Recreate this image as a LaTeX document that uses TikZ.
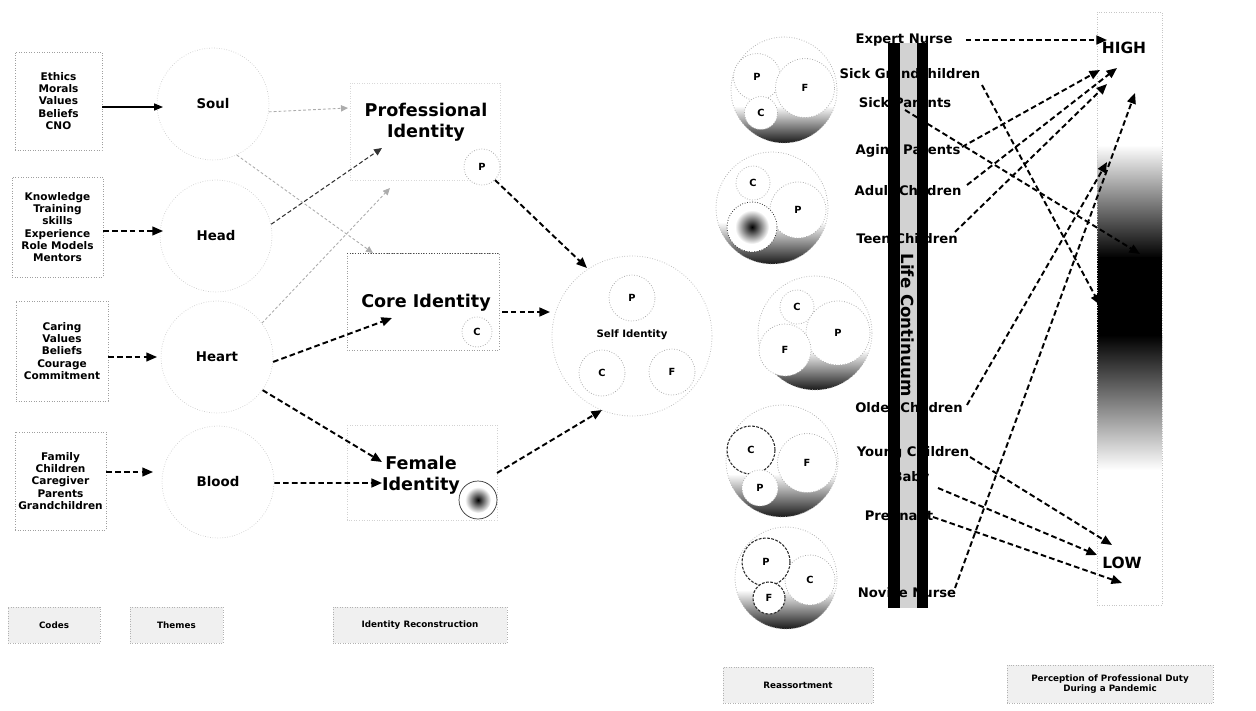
\documentclass[tikz,border=0pt]{standalone}
\usepackage{fontspec}
\setmainfont{DejaVu Sans}
\usetikzlibrary{arrows.meta}
\tikzset{
  codebox/.style={draw=gray!75, densely dotted, line width=0.45pt, align=center, inner sep=0pt, font=\fontsize{6}{7}\selectfont\bfseries},
  theme/.style={circle, draw=gray!40, densely dotted, line width=0.4pt, minimum size=2.24cm, inner sep=0pt, font=\fontsize{7.6}{9}\selectfont\bfseries},
  idbox/.style={draw=gray!40, densely dotted, line width=0.45pt},
  idtitle/.style={align=center, font=\fontsize{10}{12}\selectfont\bfseries, inner sep=0pt},
  ring/.style={circle, draw=gray!65, densely dotted, line width=0.45pt, fill=white, inner sep=0pt, font=\fontsize{5.6}{6}\selectfont\bfseries},
  darkring/.style={ring, draw=black!85, dash pattern=on 1.6pt off 0.8pt, line width=0.6pt},
  outerring/.style={draw=gray!60, densely dotted, line width=0.45pt},
  heavy/.style={draw=black, line width=1.1pt, dash pattern=on 3.2pt off 1.8pt, -{Triangle[length=6pt,width=5pt]}},
  medium/.style={draw=black!80, line width=0.6pt, dash pattern=on 2.4pt off 1.4pt, -{Triangle[length=4.5pt,width=4pt]}},
  faint/.style={draw=gray!65, line width=0.5pt, dash pattern=on 1.6pt off 1.2pt, -{Triangle[length=4pt,width=3.6pt]}},
  plainarrow/.style={draw=black, line width=0.6pt, -{Triangle[length=5pt,width=4pt]}},
  rlabel/.style={font=\fontsize{7.5}{9}\selectfont\bfseries, inner sep=0pt},
  tag/.style={draw=gray!60, densely dotted, fill=gray!12, line width=0.4pt, align=center, inner sep=0pt, font=\fontsize{5}{6}\selectfont\bfseries},
  crescent/.style={top color=white, bottom color=black!90},
}
\begin{document}
\begin{tikzpicture}[x=0.02cm,y=-0.02cm]
\useasboundingbox (0,0) rectangle (1256,710);

% ---------- Codes ----------
\node[codebox, minimum width=1.74cm, minimum height=1.96cm] (c1) at (58.5,101) {Ethics\\Morals\\Values\\Beliefs\\CNO};
\node[codebox, minimum width=1.82cm, minimum height=2.0cm] (c2) at (57.5,227) {Knowledge\\Training\\skills\\Experience\\Role Models\\Mentors};
\node[codebox, minimum width=1.84cm, minimum height=2.0cm] (c3) at (62,351) {Caring\\Values\\Beliefs\\Courage\\Commitment};
\node[codebox, minimum width=1.82cm, minimum height=1.96cm] (c4) at (60.5,481) {Family\\Children\\Caregiver\\Parents\\Grandchildren};

% ---------- Themes ----------
\node[theme] (soul) at (213,104) {Soul};
\node[theme] (head) at (216,236) {Head};
\node[theme] (heart) at (217,357) {Heart};
\node[theme] (blood) at (218,482) {Blood};

\draw[plainarrow] (c1.east |- 0,107) -- (163,107) coordinate (soulin);
\draw[heavy, line width=0.8pt] (c2.east |- 0,231) -- (163,231) coordinate (headin);
\draw[heavy, line width=0.8pt] (c3.east |- 0,357) -- (157,357) coordinate (heartin);
\draw[heavy, line width=0.8pt] (c4.east |- 0,472) -- (153,472) coordinate (bloodin);

% ---------- Identity boxes ----------
\draw[idbox, draw=gray!30] (350,83) rectangle (500,180);
\node[idtitle] (prof) at (426,122) {Professional\\Identity};
\node[ring, minimum size=0.72cm] (profp) at (482,167) {P};

\draw[idbox, draw=gray!75] (347,253) rectangle (499,350);
\draw[black!70, densely dotted, line width=0.5pt] (347,253) -- (499,253);
\node[idtitle] (core) at (426,303) {Core Identity};
\node[ring, minimum size=0.6cm] (corec) at (477,332) {C};

\draw[idbox, draw=gray!35] (347,425) rectangle (497,520);
\node[idtitle] (female) at (421,475) {Female\\Identity};
\node[circle, draw=black!80, line width=0.4pt, fill=white, minimum size=0.76cm, inner sep=0pt] (femf) at (478,500) {};
\shade[inner color=black, outer color=white] (478,500) circle[radius=13];

% ---------- Self identity ----------
\node[circle, draw=gray!50, densely dotted, line width=0.45pt, minimum size=3.2cm, inner sep=0pt] (self) at (632,336) {};
\node[ring, minimum size=0.92cm] (selfp) at (632,298) {P};
\node[ring, minimum size=0.92cm] (selfc) at (602,373) {C};
\node[ring, minimum size=0.92cm] (selff) at (672,372) {F};
\node[font=\fontsize{5.8}{7}\selectfont\bfseries, inner sep=0pt] (selft) at (632,335) {Self Identity};

% ---------- arrows (left part) ----------
\draw[faint] (soul.-8) -- (348,108) coordinate (profin1);
\draw[faint] (soul.-65) -- (373,253) coordinate (corein1);
\draw[medium] (head.12) -- (382,148) coordinate (profin2);
\draw[faint] (heart.37) -- (390,188) coordinate (profin3);
\draw[heavy] (heart.-5) -- (392,318) coordinate (corein2);
\draw[heavy] (heart.-36) -- (382,462) coordinate (femin1);
\draw[heavy] (blood.-1) -- (382,483) coordinate (femin2);
\draw[heavy] (profp.-45) -- (587,268) coordinate (selfin1);
\draw[heavy] (502,312) coordinate (coreout) -- (550,312) coordinate (selfin2);
\draw[heavy] (497,473) coordinate (femout) -- (602,410) coordinate (selfin3);

% ---------- bottom tags ----------
\node[tag, minimum width=1.84cm, minimum height=0.72cm] (tcodes) at (54,625) {Codes};
\node[tag, minimum width=1.86cm, minimum height=0.72cm] (tthemes) at (176.5,625) {Themes};
\node[tag, minimum width=3.48cm, minimum height=0.72cm] (tident) at (420,625) {Identity Reconstruction};
\node[tag, minimum width=3.0cm, minimum height=0.72cm] (treas) at (798,685) {Reassortment};
\node[tag, minimum width=4.12cm, minimum height=0.76cm] (tperc) at (1110,684) {Perception of Professional Duty\\During a Pandemic};

% ---------- Reassortment stack ----------
% circle 1
\begin{scope}\clip (784,90) circle[radius=53];
\shade[crescent] (731,106) rectangle (837,143);\end{scope}
\draw[outerring] (784,90) circle[radius=53];
\node[ring, minimum size=0.94cm] (s1p) at (757,77) {P};
\node[ring, minimum size=1.18cm] (s1f) at (805,88) {F};
\node[ring, minimum size=0.66cm] (s1c) at (761,113) {C};
% circle 2
\begin{scope}\clip (772,208) circle[radius=56];
\shade[crescent] (716,222) rectangle (828,264);\end{scope}
\draw[outerring] (772,208) circle[radius=56];
\node[ring, minimum size=0.68cm] (s2c) at (753,183) {C};
\node[ring, minimum size=1.12cm] (s2p) at (798,210) {P};
\node[circle, draw=black!80, densely dotted, line width=0.45pt, fill=white, minimum size=1.0cm, inner sep=0pt] (s2f) at (752,227) {};
\shade[inner color=black, outer color=white] (752,227) circle[radius=17];
% circle 3
\begin{scope}\clip (815,333) circle[radius=57];
\shade[crescent] (758,350) rectangle (872,390);\end{scope}
\draw[outerring] (815,333) circle[radius=57];
\node[ring, minimum size=0.68cm] (s3c) at (797,307) {C};
\node[ring, minimum size=1.28cm] (s3p) at (838,333) {P};
\node[ring, minimum size=1.04cm] (s3f) at (785,350) {F};
% circle 4
\begin{scope}\clip (782,461) circle[radius=56];
\shade[crescent] (726,474) rectangle (838,517);\end{scope}
\draw[outerring] (782,461) circle[radius=56];
\node[ring, minimum size=1.18cm] (s4f) at (807,463) {F};
\node[darkring, minimum size=0.96cm] (s4c) at (751,450) {C};
\node[ring, minimum size=0.72cm] (s4p) at (760,488) {P};
% circle 5
\begin{scope}\clip (786,578) circle[radius=51];
\shade[crescent] (735,590) rectangle (837,629);\end{scope}
\draw[outerring] (786,578) circle[radius=51];
\node[ring, minimum size=1.0cm] (s5c) at (810,580) {C};
\node[darkring, minimum size=0.96cm] (s5p) at (766,562) {P};
\node[darkring, minimum size=0.64cm] (s5f) at (769,598) {F};

% ---------- Life continuum bar ----------
\fill[black] (888,43) rectangle (928,608);
\fill[gray!35] (900,43) rectangle (917,608);
\node[rotate=-90, font=\fontsize{9.5}{10}\selectfont\bfseries, inner sep=0pt] (life) at (908,325) {Life Continuum};

\node[rlabel] (expert) at (904,40) {Expert Nurse};
\node[rlabel] (sickg) at (910,74) {Sick Grandchildren};
\node[rlabel] (sickp) at (905,103) {Sick Parents};
\node[rlabel] (aging) at (908,151) {Aging Parents};
\node[rlabel] (adult) at (908,191) {Adult Children};
\node[rlabel] (teen) at (907,239) {Teen Children};
\node[rlabel] (older) at (909,408) {Older Children};
\node[rlabel] (young) at (913,453) {Young Children};
\node[rlabel] (baby) at (911,478) {Baby};
\node[rlabel] (preg) at (899,517) {Pregnant};
\node[rlabel] (novice) at (907,593) {Novice Nurse};

% ---------- HIGH / LOW scale ----------
\shade[top color=white, bottom color=black] (1097,145) rectangle (1162,258);
\fill[black] (1097,257) rectangle (1162,336);
\shade[top color=black, bottom color=white] (1097,335) rectangle (1162,470);
\draw[gray!45, densely dotted, line width=0.4pt] (1097,12) rectangle (1162,605);
\node[font=\fontsize{8.8}{10}\selectfont\bfseries, inner sep=0pt] (high) at (1124,48) {HIGH};
\node[font=\fontsize{8.8}{10}\selectfont\bfseries, inner sep=0pt] (low) at (1122,563) {LOW};

% ---------- arrows (right part) ----------
\draw[heavy] (expert.east) ++(13,0) coordinate (expo) -- (1107,40) coordinate (hi1);
\draw[heavy] (982,85) coordinate (sgo) -- (1100,305) coordinate (mid1);
\draw[heavy] (905,110) coordinate (spo) -- (1140,254) coordinate (mid2);
\draw[heavy] (962,147) coordinate (ago) -- (1100,70) coordinate (hi2);
\draw[heavy] (967,185) coordinate (ado) -- (1117,68) coordinate (hi3);
\draw[heavy] (955,232) coordinate (teo) -- (1107,84) coordinate (hi4);
\draw[heavy] (967,405) coordinate (oldo) -- (1107,162) coordinate (hi5);
\draw[heavy] (955,588) coordinate (novo) -- (1135,93) coordinate (hi6);
\draw[heavy] (970,457) coordinate (yco) -- (1112,545) coordinate (lo1);
\draw[heavy] (938,488) coordinate (bbo) -- (1097,555) coordinate (lo2);
\draw[heavy] (933,517) coordinate (pro) -- (1122,583) coordinate (lo3);
\end{tikzpicture}
\end{document}
